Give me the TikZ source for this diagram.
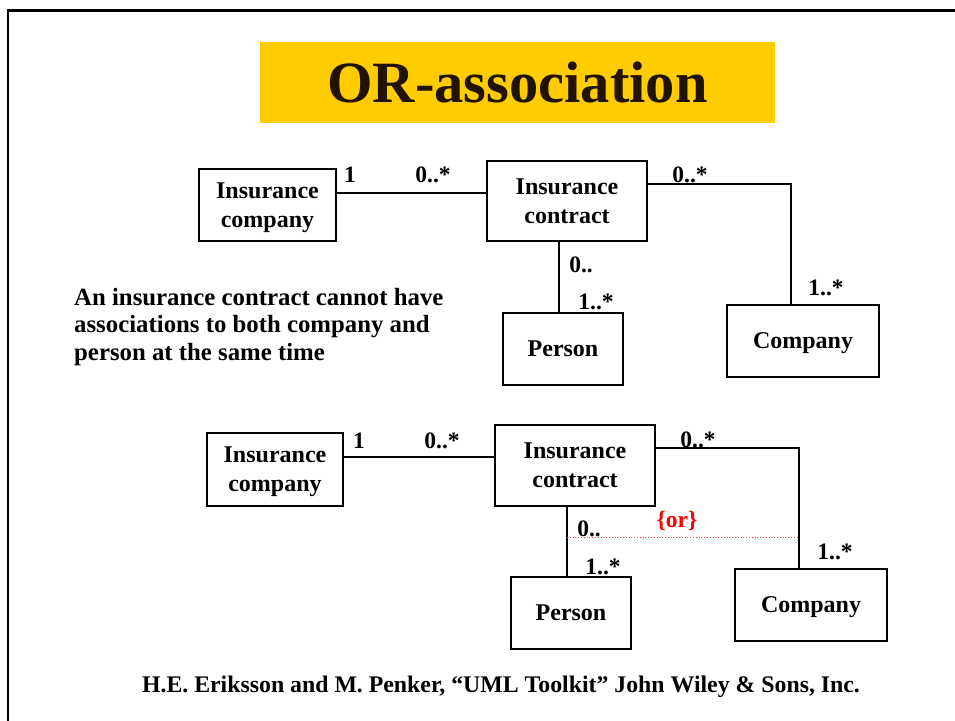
\documentclass[tikz,border=0pt]{standalone}
\usepackage{fontspec}
\setmainfont{Liberation Serif}
\begin{document}
\begin{tikzpicture}[x=1pt,y=-1pt,
  every node/.style={font=\bfseries},
  cls/.style={draw, line width=1.2pt, align=center, inner sep=0pt, text depth=-5pt,
    font=\fontsize{24}{29}\selectfont\bfseries},
  mult/.style={inner sep=0pt, font=\fontsize{23.5}{23.5}\selectfont\bfseries},
  assoc/.style={line width=1.1pt},
  orline/.style={red!75, dotted, line width=0.8pt}]
\definecolor{titlebg}{HTML}{FFCC00}
\definecolor{titleink}{HTML}{221200}
\useasboundingbox (0,0) rectangle (955,720);
% slide frame (left and top edges)
\draw[line width=2.5pt] (8,722) -- (8,10.5) -- (957,10.5);
% title banner
\node[fill=titlebg, minimum width=515pt, minimum height=81pt, inner sep=0pt,
  text=titleink, font=\fontsize{58.5}{58.5}\selectfont\bfseries] (title) at (517.5,82) {OR-association};

% ---- upper diagram: plain associations ----
\node[cls, minimum width=137pt, minimum height=72pt] (ic1) at (267.5,205) {Insurance\\company};
\node[cls, minimum width=160pt, minimum height=80pt] (ct1) at (567,201) {Insurance\\contract};
\node[cls, minimum width=120pt, minimum height=72pt] (pe1) at (563,349) {Person};
\node[cls, minimum width=152pt, minimum height=72pt] (co1) at (803,341) {Company};
\draw[assoc] (ic1.east |- 0,193) -- (ct1.west |- 0,193);
\draw[assoc] (ct1.east |- 0,184) -| ([xshift=-12pt]co1.north);
\draw[assoc] ([xshift=-8pt]ct1.south) -- ([xshift=-4pt]pe1.north);
\node[mult] (m1) at (350,175) {1};
\node[mult] (m2) at (433,175) {0..*};
\node[mult] (m3) at (690,175) {0..*};
\node[mult] (m4) at (826,288) {1..*};
\node[mult] (m5) at (581,265) {0..};
\node[mult] (m6) at (596,302) {1..*};
\node[anchor=west, align=left, inner sep=0pt,
  font=\fontsize{24.8}{27.5}\selectfont\bfseries] (note) at (74,327)
  {An insurance contract cannot have\\associations to both company and\\person at the same time};

% ---- lower diagram: the {or} constraint ----
\node[cls, minimum width=136pt, minimum height=73pt] (ic2) at (275,469.5) {Insurance\\company};
\node[cls, minimum width=160pt, minimum height=81pt] (ct2) at (575,465.5) {Insurance\\contract};
\node[cls, minimum width=120pt, minimum height=72pt] (pe2) at (571,613) {Person};
\node[cls, minimum width=152pt, minimum height=72pt] (co2) at (811,605) {Company};
\draw[assoc] (ic2.east |- 0,457) -- (ct2.west |- 0,457);
\draw[assoc] (ct2.east |- 0,448) -| ([xshift=-12pt]co2.north);
\draw[assoc] ([xshift=-8pt]ct2.south) -- ([xshift=-4pt]pe2.north);
\coordinate (orA) at ([xshift=-8pt]ct2.south |- 0,537);
\coordinate (orB) at ([xshift=-12pt]co2.north |- 0,537);
\draw[orline] (orA) -- (orB);
\node[mult, text=red] (or) at (677,521) {\{or\}};
\node[mult] (n1) at (359,441) {1};
\node[mult] (n2) at (442,441) {0..*};
\node[mult] (n3) at (698,440) {0..*};
\node[mult] (n4) at (835,552) {1..*};
\node[mult] (n5) at (589,529) {0..};
\node[mult] (n6) at (603,567) {1..*};

% reference line
\node[inner sep=0pt, font=\fontsize{23.8}{23.8}\selectfont\bfseries] (src) at (501,687)
  {H.E. Eriksson and M. Penker, “UML Toolkit” John Wiley \& Sons, Inc.};
\end{tikzpicture}
\end{document}
